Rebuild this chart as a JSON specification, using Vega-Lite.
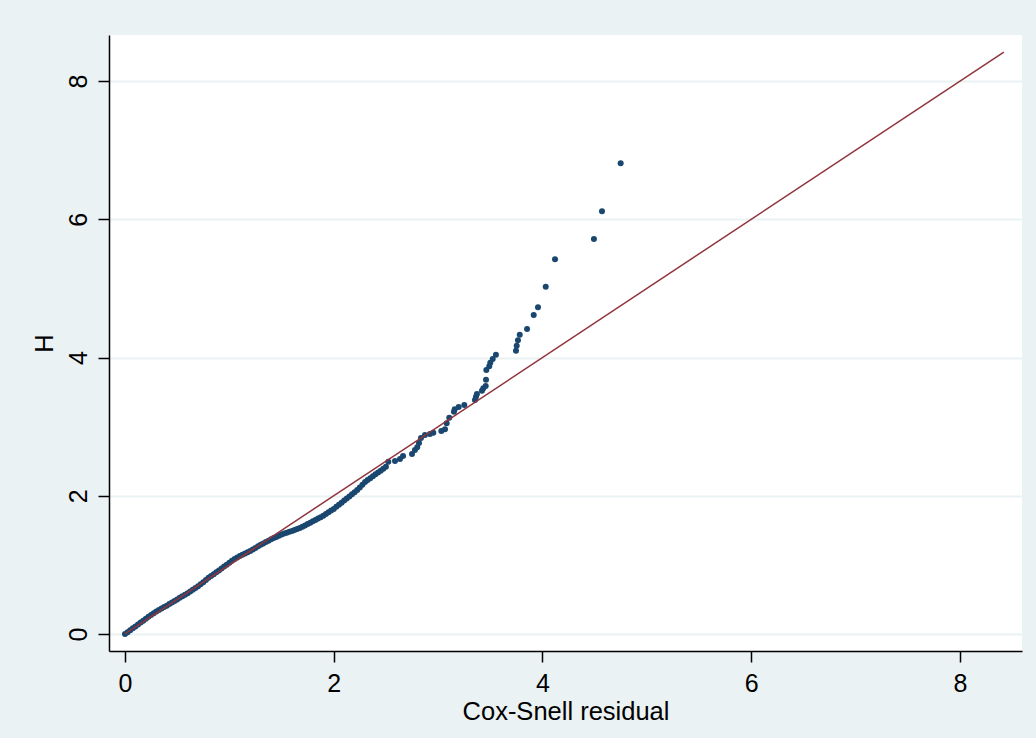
{
  "$schema": "https://vega.github.io/schema/vega-lite/v6.json",
  "width": 913,
  "height": 616,
  "autosize": {"type": "none"},
  "padding": {"left": 109, "top": 35, "right": 14, "bottom": 87},
  "background": "#eaf2f3",
  "config": {
    "view": {"fill": "white", "stroke": null},
    "font": "Liberation Sans",
    "axis": {
      "labelFont": "Liberation Sans",
      "titleFont": "Liberation Sans",
      "labelFontSize": 25,
      "titleFontSize": 25.5,
      "titleFontWeight": "normal",
      "labelColor": "black",
      "titleColor": "black",
      "domainColor": "black",
      "domainWidth": 1.5,
      "tickColor": "black",
      "tickWidth": 1.5,
      "tickSize": 11,
      "gridColor": "#eaf2f3",
      "gridWidth": 2
    }
  },
  "datasets": {
    "pts": [
      {"r":0.000,"H":0.000},{"r":0.025,"H":0.027},{"r":0.050,"H":0.055},{"r":0.075,"H":0.083},{"r":0.100,"H":0.110},
      {"r":0.125,"H":0.138},{"r":0.150,"H":0.165},{"r":0.175,"H":0.193},{"r":0.200,"H":0.220},{"r":0.225,"H":0.248},
      {"r":0.250,"H":0.275},{"r":0.275,"H":0.300},{"r":0.300,"H":0.325},{"r":0.325,"H":0.348},{"r":0.350,"H":0.370},
      {"r":0.375,"H":0.390},{"r":0.400,"H":0.410},{"r":0.425,"H":0.433},{"r":0.450,"H":0.455},{"r":0.475,"H":0.478},
      {"r":0.500,"H":0.500},{"r":0.525,"H":0.523},{"r":0.550,"H":0.545},{"r":0.575,"H":0.568},{"r":0.600,"H":0.590},
      {"r":0.625,"H":0.615},{"r":0.650,"H":0.640},{"r":0.675,"H":0.665},{"r":0.700,"H":0.690},{"r":0.725,"H":0.720},
      {"r":0.750,"H":0.750},{"r":0.775,"H":0.783},{"r":0.800,"H":0.815},{"r":0.825,"H":0.840},{"r":0.850,"H":0.865},
      {"r":0.875,"H":0.893},{"r":0.900,"H":0.920},{"r":0.925,"H":0.948},{"r":0.950,"H":0.975},{"r":0.975,"H":1.003},
      {"r":1.000,"H":1.030},{"r":1.025,"H":1.058},{"r":1.050,"H":1.085},{"r":1.075,"H":1.108},{"r":1.100,"H":1.130},
      {"r":1.125,"H":1.148},{"r":1.150,"H":1.165},{"r":1.175,"H":1.183},{"r":1.200,"H":1.200},{"r":1.225,"H":1.223},
      {"r":1.250,"H":1.245},{"r":1.275,"H":1.268},{"r":1.300,"H":1.290},{"r":1.325,"H":1.310},{"r":1.350,"H":1.330},
      {"r":1.375,"H":1.350},{"r":1.400,"H":1.370},{"r":1.425,"H":1.388},{"r":1.450,"H":1.405},{"r":1.475,"H":1.423},
      {"r":1.500,"H":1.440},{"r":1.525,"H":1.453},{"r":1.550,"H":1.465},{"r":1.575,"H":1.478},{"r":1.600,"H":1.490},
      {"r":1.625,"H":1.505},{"r":1.650,"H":1.520},{"r":1.675,"H":1.535},{"r":1.700,"H":1.550},{"r":1.725,"H":1.570},
      {"r":1.750,"H":1.590},{"r":1.775,"H":1.610},{"r":1.800,"H":1.630},{"r":1.825,"H":1.650},{"r":1.850,"H":1.670},
      {"r":1.875,"H":1.690},{"r":1.900,"H":1.710},{"r":1.925,"H":1.735},{"r":1.950,"H":1.760},{"r":1.975,"H":1.785},
      {"r":2.000,"H":1.810},{"r":2.025,"H":1.840},{"r":2.050,"H":1.870},{"r":2.075,"H":1.900},{"r":2.100,"H":1.930},
      {"r":2.125,"H":1.960},{"r":2.150,"H":1.990},{"r":2.175,"H":2.020},{"r":2.200,"H":2.050},{"r":2.225,"H":2.085},
      {"r":2.250,"H":2.120},{"r":2.275,"H":2.160},{"r":2.300,"H":2.200},{"r":2.325,"H":2.228},{"r":2.350,"H":2.255},
      {"r":2.375,"H":2.283},{"r":2.400,"H":2.310},{"r":2.425,"H":2.335},{"r":2.450,"H":2.360},{"r":2.475,"H":2.390},
      {"r":2.500,"H":2.420},{"r":2.523,"H":2.493},{"r":2.587,"H":2.503},{"r":2.635,"H":2.530},{"r":2.664,"H":2.575},
      {"r":2.750,"H":2.604},{"r":2.778,"H":2.662},{"r":2.800,"H":2.700},{"r":2.817,"H":2.763},{"r":2.836,"H":2.835},
      {"r":2.874,"H":2.879},{"r":2.922,"H":2.893},{"r":2.954,"H":2.912},{"r":3.031,"H":2.937},{"r":3.066,"H":2.961},
      {"r":3.082,"H":3.048},{"r":3.107,"H":3.129},{"r":3.152,"H":3.216},{"r":3.159,"H":3.251},{"r":3.197,"H":3.284},
      {"r":3.251,"H":3.313},{"r":3.353,"H":3.385},{"r":3.363,"H":3.433},{"r":3.372,"H":3.472},{"r":3.420,"H":3.520},
      {"r":3.433,"H":3.554},{"r":3.456,"H":3.588},{"r":3.459,"H":3.679},{"r":3.462,"H":3.819},{"r":3.490,"H":3.873},
      {"r":3.500,"H":3.925},{"r":3.523,"H":3.978},{"r":3.554,"H":4.041},{"r":3.746,"H":4.098},{"r":3.753,"H":4.171},
      {"r":3.765,"H":4.249},{"r":3.782,"H":4.330},{"r":3.852,"H":4.412},{"r":3.916,"H":4.615},{"r":3.957,"H":4.726},
      {"r":4.031,"H":5.024},{"r":4.120,"H":5.421},{"r":4.493,"H":5.714},{"r":4.570,"H":6.115},{"r":4.749,"H":6.809}
    ],
    "ref": [
      {"r": 0, "H": 0},
      {"r": 8.42, "H": 8.42}
    ]
  },
  "layer": [
    {
      "data": {"name": "pts"},
      "mark": {"type": "circle", "size": 36, "color": "#1a476f", "opacity": 1},
      "encoding": {
        "x": {
          "field": "r", "type": "quantitative",
          "scale": {"domain": [-0.153, 8.594], "nice": false, "zero": false},
          "axis": {"values": [0, 2, 4, 6, 8], "title": "Cox-Snell residual", "grid": false, "labelPadding": 9, "titlePadding": 3, "format": "d"}
        },
        "y": {
          "field": "H", "type": "quantitative",
          "scale": {"domain": [-0.246, 8.666], "nice": false, "zero": false},
          "axis": {"values": [0, 2, 4, 6, 8], "title": "H", "grid": true, "labelAngle": -90, "labelAlign": "center", "labelBaseline": "bottom", "labelPadding": 7, "titlePadding": 9, "format": "d"}
        }
      }
    },
    {
      "data": {"name": "ref"},
      "mark": {"type": "line", "color": "#90353b", "strokeWidth": 1.5},
      "encoding": {
        "x": {"field": "r", "type": "quantitative"},
        "y": {"field": "H", "type": "quantitative"}
      }
    }
  ]
}
